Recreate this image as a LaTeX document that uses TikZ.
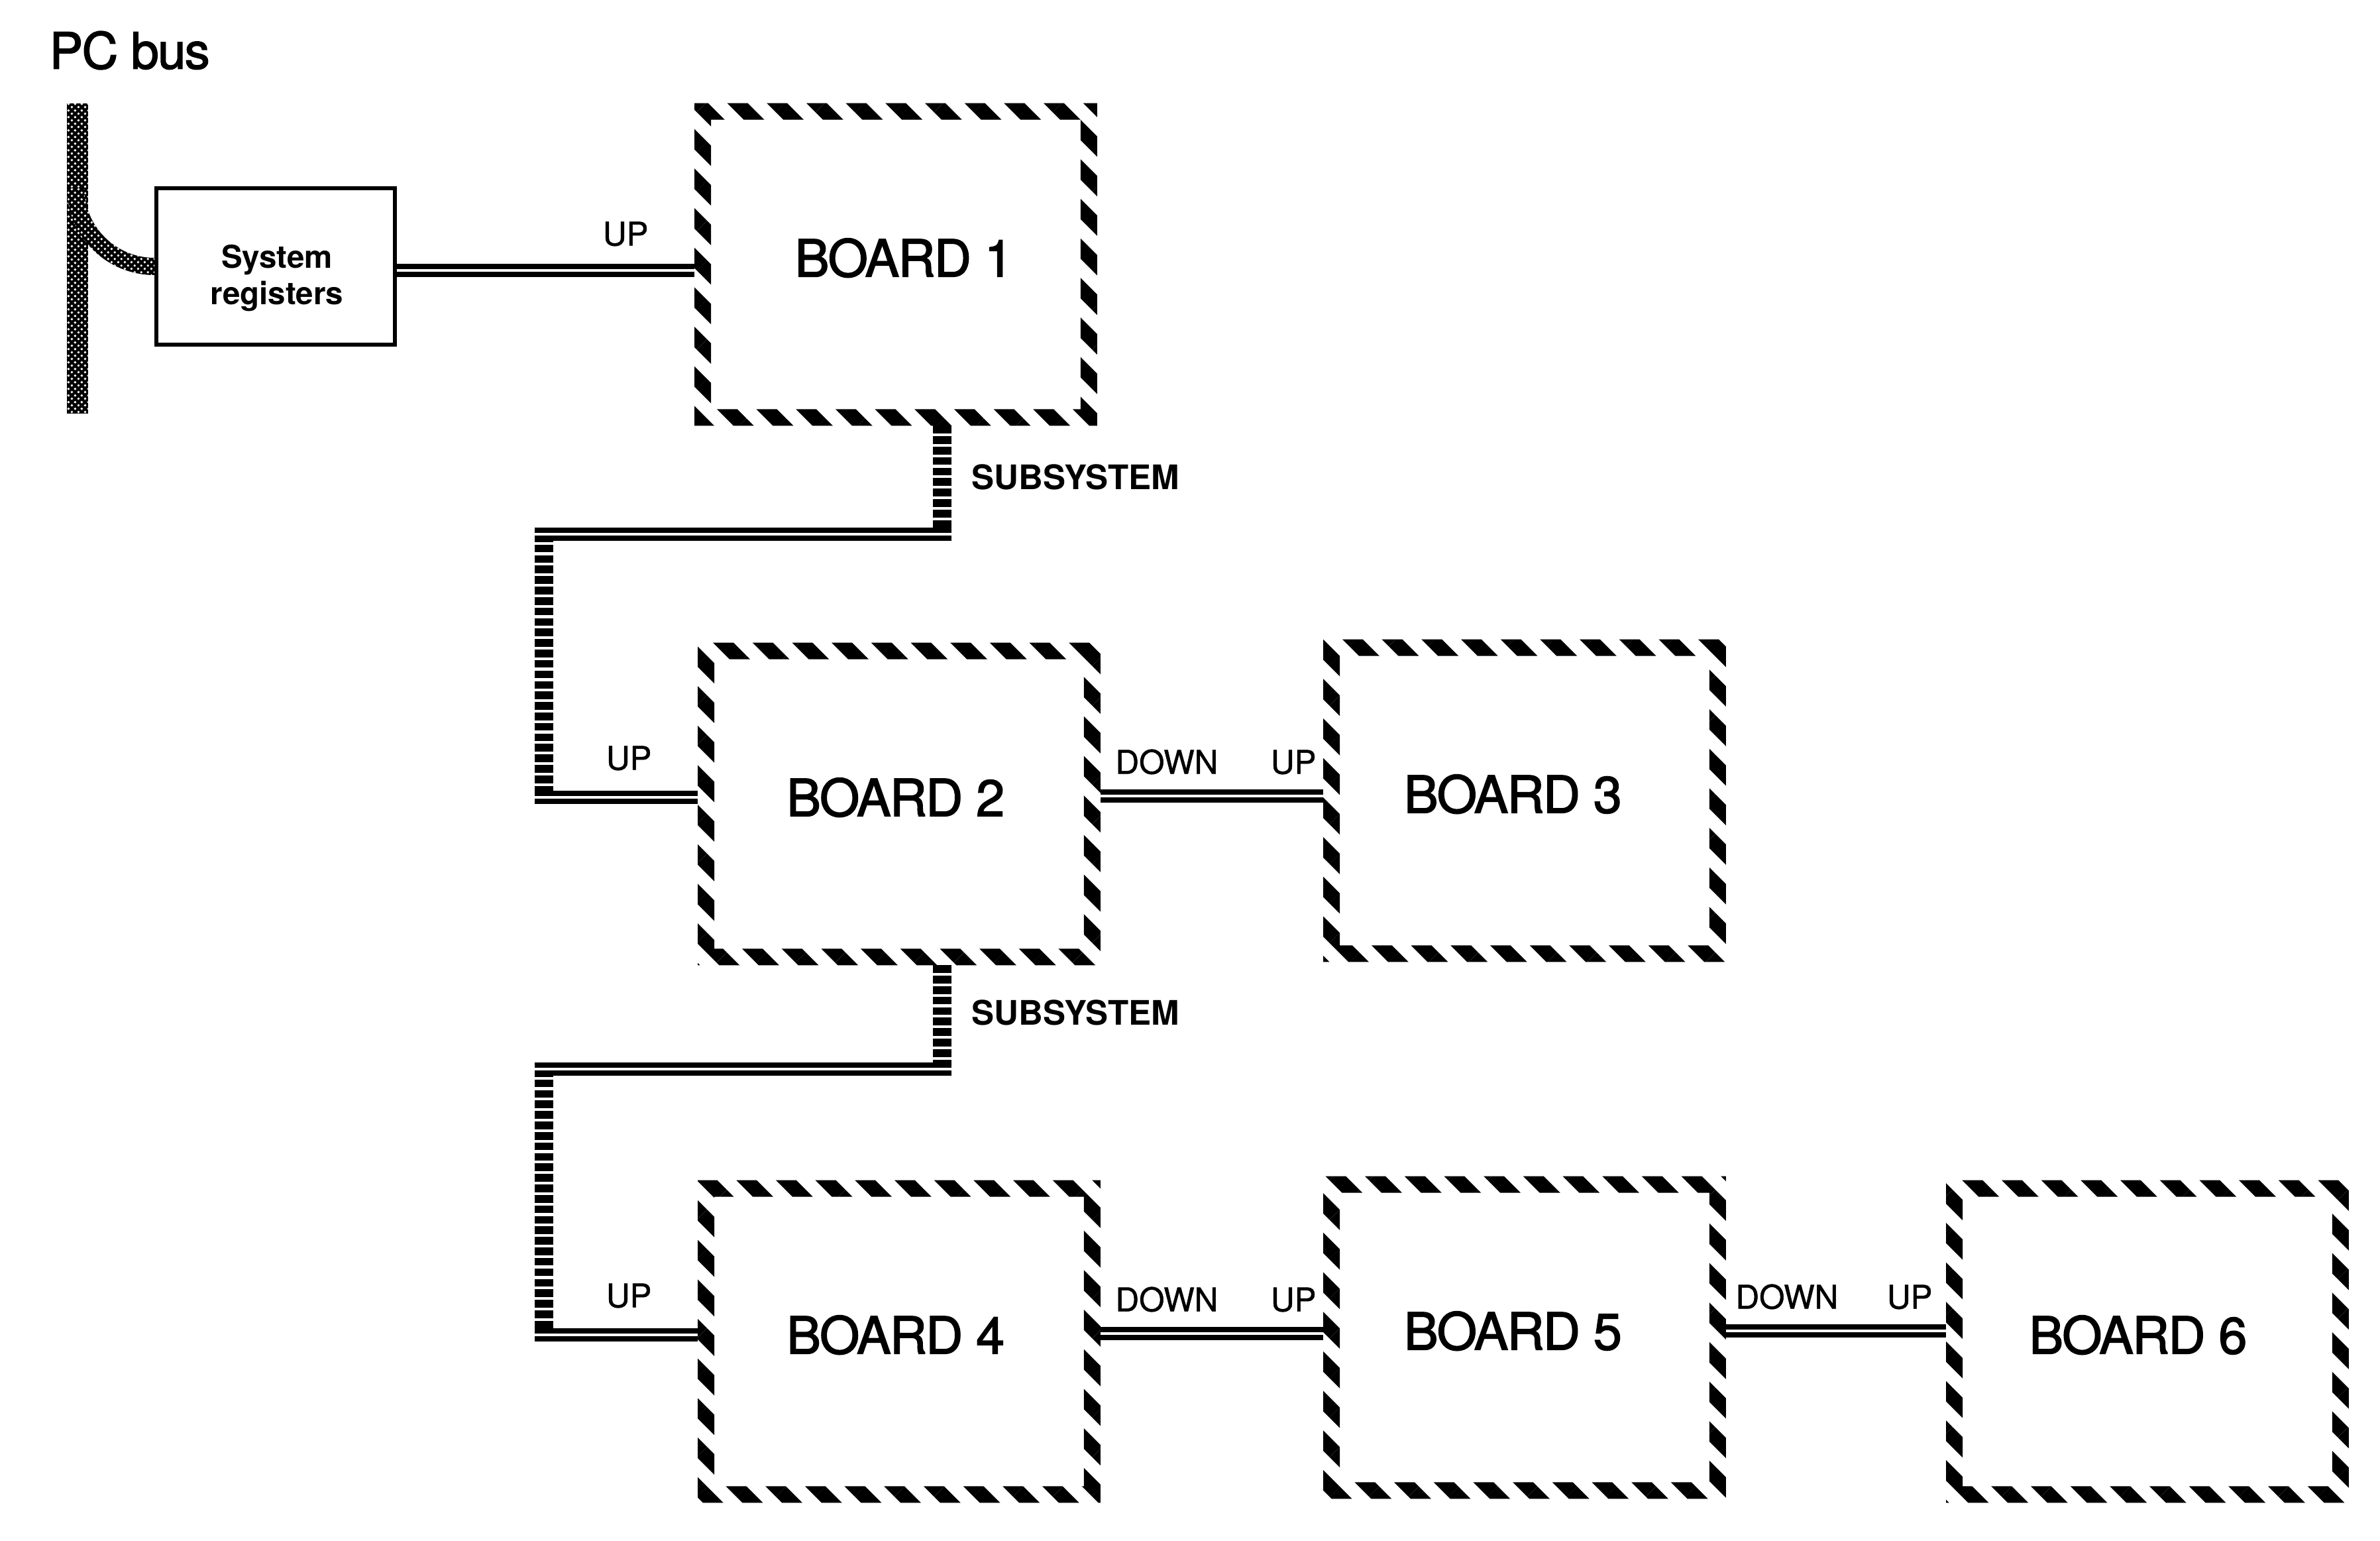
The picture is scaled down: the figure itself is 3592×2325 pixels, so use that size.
\documentclass[tikz,border=0pt]{standalone}
\usepackage{fontspec}
\setmainfont{TeX Gyre Heros}
\newfontfamily\heavyfont[FakeBold=2, LetterSpace=-2]{TeX Gyre Heros}
\newfontfamily\labelfont[FakeBold=1]{TeX Gyre Heros}
\usetikzlibrary{positioning, calc, patterns, patterns.meta}

\pgfdeclarepatternformonly{busdots}{\pgfqpoint{-0.7pt}{-0.7pt}}{\pgfqpoint{2.1pt}{2.1pt}}{\pgfqpoint{2.8pt}{2.8pt}}{%
  \pgfpathcircle{\pgfqpoint{0pt}{0pt}}{0.55pt}%
  \pgfpathcircle{\pgfqpoint{1.4pt}{1.4pt}}{0.55pt}%
  \pgfusepath{fill}}

\newcommand{\boardframe}[1]{%
  \fill[hatch, even odd rule] (#1.north west) rectangle (#1.south east)
    ([shift={(25,25)}]#1.north west) rectangle ([shift={(-25,-25)}]#1.south east);}

\begin{document}
\begin{tikzpicture}[x=0.01cm, y=-0.01cm,
    board/.style={minimum width=6.06cm, minimum height=4.85cm, inner sep=0pt, text depth=6pt, font=\heavyfont\fontsize{22}{26}\selectfont},
    regbox/.style={draw, line width=1.6pt, minimum width=3.6cm, minimum height=2.36cm},
    regtext/.style={inner sep=0pt, align=center, font=\bfseries\fontsize{13.5}{15.6}\selectfont},
    hatch/.style={pattern={Lines[angle=-45, distance=12pt, line width=6.2pt]}},
    busfill/.style={preaction={fill=black}, pattern=busdots, pattern color=white},
    busbar/.style={busfill, minimum width=0.32cm, minimum height=4.67cm, inner sep=0pt},
    link/.style={double=white, double distance=1.3pt, line width=2.2pt},
    ladder/.style={line width=8pt, dash pattern=on 3.3pt off 1.2pt},
    lbl/.style={inner sep=0pt, font=\labelfont\fontsize{14}{16}\selectfont},
    sublbl/.style={inner sep=0pt, font=\bfseries\fontsize{14.5}{17}\selectfont}]
  \useasboundingbox (0,0) rectangle (3592,2325);

  \node[anchor=west, inner sep=0pt, font=\heavyfont\fontsize{21.5}{25}\selectfont] (pcbus) at (74,76) {PC bus};
  \node[busbar] (bus) at (117,390) {};
  \node[regbox] (sysreg) at (416,402) {};
  \node[regtext] (regname) at ($(sysreg.center)+(2,18)$) {System\\registers};
  \coordinate (bend) at ($(sysreg.west)+(0,-119)$);
  \fill[busfill] ($(bend)+(-132,0)$) arc[start angle=180, end angle=90, radius=132] -- ++(0,-26)
    arc[start angle=90, end angle=180, radius=106] -- cycle;

  \node[board] (b1) at (1352,399) {BOARD 1\kern-7pt};
  \node[board] (b2) at (1357,1213) {BOARD 2\kern3pt};
  \node[board] (b3) at (2301,1208) {BOARD 3\kern10pt};
  \node[board] (b4) at (1357,2024) {BOARD 4\kern3pt};
  \node[board] (b5) at (2301,2018) {BOARD 5\kern10pt};
  \node[board] (b6) at (3241,2024) {BOARD 6\kern8pt};

  % subsystem chains
  \coordinate (s1a) at ($(b1.south)+(70,0)$);
  \coordinate (s1b) at (1422,806);
  \coordinate (s1c) at (821,806);
  \coordinate (s1d) at ($(s1c |- b2.west)+(0,-10)$);
  \coordinate (s2a) at ($(b2.south)+(65,0)$);
  \coordinate (s2b) at (1422,1613);
  \coordinate (s2c) at (821,1613);
  \coordinate (s2d) at ($(s2c |- b4.west)+(0,-10)$);
  \draw[ladder] (s1a) -- (s1b);
  \draw[ladder] (s1c) -- (s1d);
  \draw[ladder] (s2a) -- (s2b);
  \draw[ladder] (s2c) -- (s2d);
  \draw[link, shorten <=-4pt, shorten >=-4pt] (s1b) -- (s1c);
  \draw[link, shorten <=-4pt] (s1d) -- (s1d -| b2.west);
  \draw[link, shorten <=-4pt, shorten >=-4pt] (s2b) -- (s2c);
  \draw[link, shorten <=-4pt] (s2d) -- (s2d -| b4.west);
  \node[sublbl, anchor=west] (sub1) at ($(s1a)+(44,78)$) {SUBSYSTEM};
  \node[sublbl, anchor=west] (sub2) at ($(s2a)+(44,72)$) {SUBSYSTEM};

  % board to board links
  \coordinate (l1) at ($(sysreg.east)+(0,6)$);
  \coordinate (l3) at ($(b2.east)+(0,-12)$);
  \coordinate (l5) at ($(b4.east)+(0,-12)$);
  \coordinate (l6) at ($(b5.east)+(0,-10)$);
  \draw[link] (l1) -- (l1 -| b1.west);
  \draw[link] (l3) -- (l3 -| b3.west);
  \draw[link] (l5) -- (l5 -| b5.west);
  \draw[link] (l6) -- (l6 -| b6.west);

  \node[lbl, anchor=south east] (up1) at ($(l1 -| b1.west)+(-69,-36)$) {UP};
  \node[lbl, anchor=south east] (up2) at ($(s1d -| b2.west)+(-69,-40)$) {UP};
  \node[lbl, anchor=south east] (up4) at ($(s2d -| b4.west)+(-69,-40)$) {UP};
  \node[lbl, anchor=south west] (dn2) at ($(l3)+(22,-32)$) {DOWN};
  \node[lbl, anchor=south east] (up3) at ($(l3 -| b3.west)+(-10,-32)$) {UP};
  \node[lbl, anchor=south west] (dn4) at ($(l5)+(22,-32)$) {DOWN};
  \node[lbl, anchor=south east] (up5) at ($(l5 -| b5.west)+(-10,-32)$) {UP};
  \node[lbl, anchor=south west] (dn5) at ($(l6)+(14,-32)$) {DOWN};
  \node[lbl, anchor=south east] (up6) at ($(l6 -| b6.west)+(-20,-32)$) {UP};

  \foreach \bd in {b1,b2,b3,b4,b5,b6} {\boardframe{\bd}}
\end{tikzpicture}
\end{document}
